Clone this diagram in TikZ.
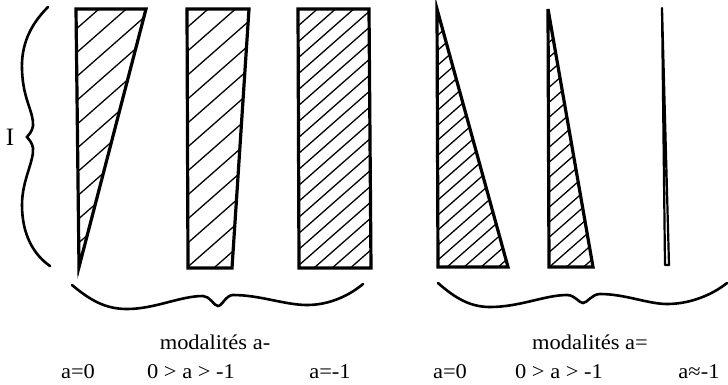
\documentclass[tikz,border=0pt]{standalone}
\usepackage{fontspec}
\setmainfont{Liberation Serif}
\newcommand\myhatch[2]{%
  \begin{scope}
    \clip #1;
    \foreach \k in {0,...,120}{\draw[hatch] (0,{\k*#2}) -- (728,{\k*#2-640});}
  \end{scope}}
\begin{document}
\begin{tikzpicture}[x=1pt,y=-1pt,
  outline/.style={line width=3.2pt, line join=miter},
  hatch/.style={line width=1.3pt},
  brace/.style={line width=2.6pt, line cap=round},
  lbl/.style={anchor=base, inner sep=0pt, font=\fontsize{21}{21}\selectfont, xscale=1.07, transform shape}]
\useasboundingbox (0,0) rectangle (728,384);
% shapes with hatching
\myhatch{(76,9) -- (146,9) -- (79,267) -- cycle}{24}
\draw[outline] (76,9) -- (146,9) -- (79,267) -- cycle;
\myhatch{(187,9) -- (249,9) -- (232,268) -- (188,268) -- cycle}{24}
\draw[outline] (187,9) -- (249,9) -- (232,268) -- (188,268) -- cycle;
\myhatch{(298,9) -- (369,9) -- (371,268) -- (299,268) -- cycle}{16}
\draw[outline] (298,9) -- (369,9) -- (371,268) -- (299,268) -- cycle;
\myhatch{(437,9) -- (508,267) -- (438,267) -- cycle}{15}
\draw[outline] (437,9) -- (508,267) -- (438,267) -- cycle;
\myhatch{(548,9) -- (593,267) -- (549,267) -- cycle}{15}
\draw[outline] (548,9) -- (593,267) -- (549,267) -- cycle;
\draw[line width=2.2pt, line join=round] (662,8) -- (669,265) -- (665,265) -- cycle;
% left brace
\draw[brace] (48,7) .. controls (30,25) and (21,45) .. (22,70)
  .. controls (23,100) and (34,112) .. (33,126)
  .. controls (32,132) and (29,134) .. (27,137)
  .. controls (29,140) and (32,142) .. (33,148)
  .. controls (34,162) and (22,180) .. (22,205)
  .. controls (22,235) and (34,255) .. (50,266);
% bottom braces
\draw[brace] (72,285) .. controls (90,300) and (105,309) .. (127,309)
  .. controls (155,309) and (180,296) .. (203,296)
  .. controls (210,296) and (214,306) .. (218,306)
  .. controls (222,306) and (226,295) .. (233,295)
  .. controls (260,295) and (285,305) .. (307,305)
  .. controls (330,305) and (350,295) .. (363,284);
\draw[brace] (438,283) .. controls (455,298) and (470,307) .. (490,307)
  .. controls (520,307) and (545,295) .. (567,295)
  .. controls (575,295) and (579,303) .. (583,303)
  .. controls (587,303) and (592,294) .. (600,294)
  .. controls (625,294) and (648,304) .. (667,304)
  .. controls (690,304) and (712,295) .. (727,283);
% labels
\node[font=\fontsize{25}{25}\selectfont, inner sep=0pt] (I) at (10,137) {I};
\node[lbl] (m1) at (215,349) {modalités a-};
\node[lbl] (m2) at (590,349) {modalités a=};
\node[lbl] (l1) at (78,378) {a=0};
\node[lbl] (l2) at (191,378) {0 > a > -1};
\node[lbl] (l3) at (330,378) {a=-1};
\node[lbl] (l4) at (450,378) {a=0};
\node[lbl] (l5) at (559,378) {0 > a > -1};
\node[lbl] (l6) at (699,378) {a≈-1};
\end{tikzpicture}
\end{document}
